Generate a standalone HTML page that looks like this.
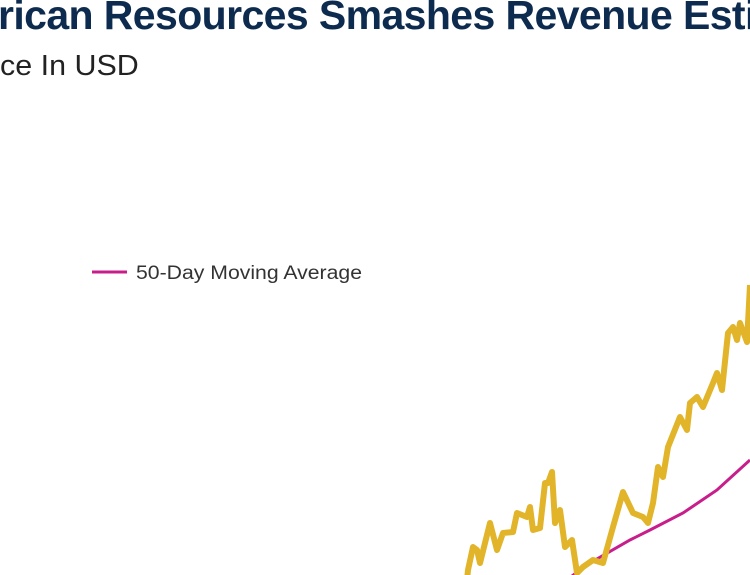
<!DOCTYPE html>
<html><head><style>
body{margin:0;width:750px;height:575px;overflow:hidden;background:#fff;position:relative;font-family:"Liberation Sans",sans-serif}
.t{position:absolute;left:-2px;top:-8px;font-size:41px;font-weight:bold;color:#0d2b4e;white-space:nowrap;letter-spacing:-0.6px}
.s{position:absolute;left:0px;top:50px;font-size:29px;color:#222;white-space:nowrap;transform:scaleX(1.05);transform-origin:left}
</style></head><body>
<div class="t">rican Resources Smashes Revenue Esti</div>
<div class="s">ce In USD</div>
<svg width="750" height="575" style="position:absolute;left:0;top:0">
<line x1="92" y1="272" x2="127" y2="272" stroke="#c81e8c" stroke-width="3"/>
<text x="136" y="279" font-family="Liberation Sans, sans-serif" font-size="19" fill="#333" textLength="226" lengthAdjust="spacingAndGlyphs">50-Day Moving Average</text>
<polyline fill="none" stroke="#c81e8c" stroke-width="3" points="572,576 590,563 630,540 650,530 683,513 717,490 750,460"/>
<polyline fill="none" stroke="#e2b42a" stroke-width="6" stroke-linejoin="round" points="467,580 468,570 473,547 477,550 480,563 490,523 497,550 503,533 513,532 517,513 527,517 530,507 533,530 540,528 545,483 548,483 552,472 555,523 560,510 565,547 572,540 577,573 583,567 593,560 603,563 613,527 623,492 633,513 643,517 648,523 653,503 658,467 663,477 668,447 680,417 687,430 690,403 697,397 703,407 713,383 717,373 722,390 728,333 733,327 737,340 740,323 747,342 750,285"/>
</svg>
</body></html>
